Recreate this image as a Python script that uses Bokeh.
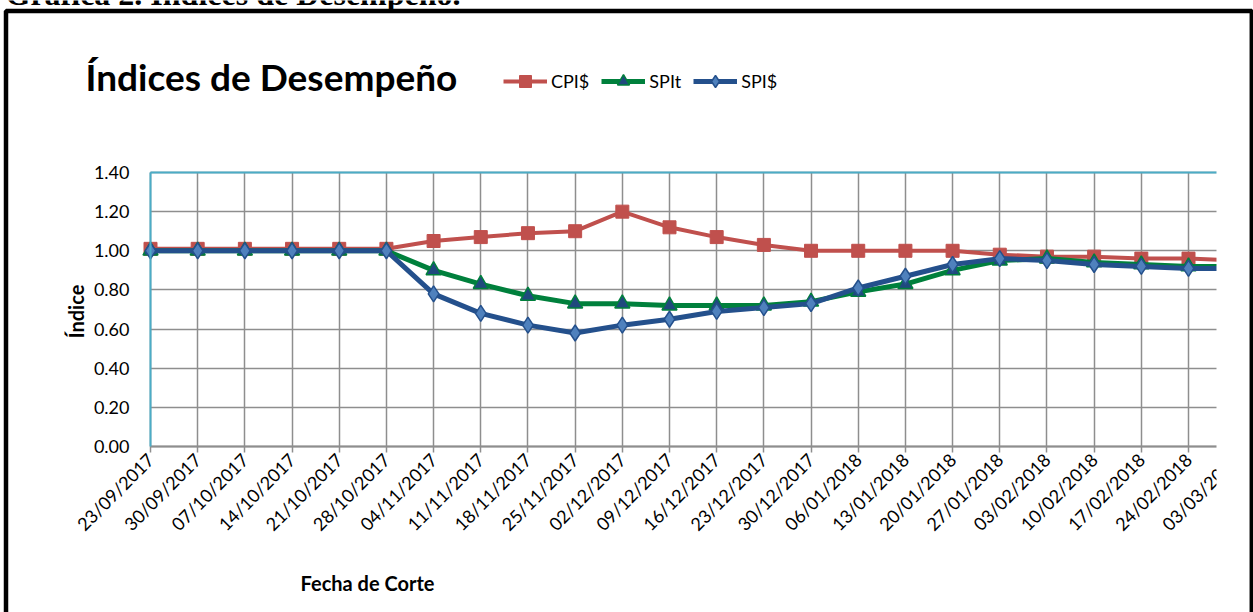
import math
from bokeh.plotting import figure
from bokeh.models import (Range1d, FixedTicker, Label, Legend, LegendItem,
                          BoxAnnotation, LinearAxis, PrintfTickFormatter)
from bokeh.embed import file_html
from bokeh.resources import INLINE

# ---------------- data ----------------
dates = ["23/09/2017", "30/09/2017", "07/10/2017", "14/10/2017", "21/10/2017",
         "28/10/2017", "04/11/2017", "11/11/2017", "18/11/2017", "25/11/2017",
         "02/12/2017", "09/12/2017", "16/12/2017", "23/12/2017", "30/12/2017",
         "06/01/2018", "13/01/2018", "20/01/2018", "27/01/2018", "03/02/2018",
         "10/02/2018", "17/02/2018", "24/02/2018", "03/03/2018"]
cpi = [1.01, 1.01, 1.01, 1.01, 1.01, 1.01, 1.05, 1.07, 1.09, 1.10, 1.20, 1.12,
       1.07, 1.03, 1.00, 1.00, 1.00, 1.00, 0.98, 0.97, 0.97, 0.96, 0.96, 0.95]
spit = [1.00, 1.00, 1.00, 1.00, 1.00, 1.00, 0.90, 0.83, 0.77, 0.73, 0.73, 0.72,
        0.72, 0.72, 0.74, 0.79, 0.83, 0.90, 0.95, 0.96, 0.94, 0.93, 0.92, 0.92]
spi = [1.00, 1.00, 1.00, 1.00, 1.00, 1.00, 0.78, 0.68, 0.62, 0.58, 0.62, 0.65,
       0.69, 0.71, 0.73, 0.81, 0.87, 0.93, 0.96, 0.95, 0.93, 0.92, 0.91, 0.91]
y_ticks = [0.0, 0.2, 0.4, 0.6, 0.8, 1.0, 1.2, 1.4]
series_names = ["CPI$", "SPIt", "SPI$"]
chart_title = "Índices de Desempeño"
page_title = "Gráfica 2. Índices de Desempeño."
x_title = "Fecha de Corte"
y_title = "Índice"

# ---------------- styles ----------------
RED = "#C0504D"
GREEN = "#00803C"
NAVY = "#1F497D"
BLUE = "#24508C"
LBLUE = "#4F81BD"
GRID = "#8E8E8E"
FRAME_BLUE = "#4BACC6"
FONT = "Lato"

W, H = 1253, 612
# plot-area geometry in page pixels
X0, DX = 150, (1188 - 150) / 22          # category 0 at x=150
Y0, DY = 446, (446 - 172) / 1.4          # value 0 at y=446, 1.40 at y=172
Y_TOP = max(y_ticks)
N = len(dates)


def sx(px):
    return px


def sy(py):
    return H - py


xs = list(range(N))

p = figure(width=W, height=H, output_backend="svg", toolbar_location=None,
           x_range=Range1d(-X0 / DX, (W - X0) / DX),
           y_range=Range1d(-(H - Y0) / DY, Y0 / DY),
           min_border_left=0, min_border_right=0,
           min_border_top=0, min_border_bottom=0,
           outline_line_color=None)

# x axis
xa = p.xaxis[0]
xa.fixed_location = 0
xa.ticker = FixedTicker(ticks=xs)
xa.major_label_overrides = {i: d for i, d in enumerate(dates)}
xa.major_label_orientation = math.pi / 4
xa.major_label_text_font = FONT
xa.major_label_text_font_size = "18px"
xa.major_label_text_color = "black"
xa.axis_line_color = GRID
xa.axis_line_width = 2
xa.bounds = (0, N)
xa.major_tick_out = 6
xa.major_tick_in = 0
xa.major_tick_line_color = GRID
xa.major_tick_line_width = 1.5
xa.minor_tick_out = 0
xa.minor_tick_in = 0
xa.major_label_standoff = 4

# y axis
ya = p.yaxis[0]
ya.fixed_location = 0
ya.ticker = FixedTicker(ticks=y_ticks)
ya.formatter = PrintfTickFormatter(format="%.2f")
ya.bounds = (0, Y_TOP)
ya.major_label_text_font = FONT
ya.major_label_text_font_size = "18px"
ya.major_label_text_color = "black"
ya.axis_line_color = FRAME_BLUE
ya.axis_line_width = 2
ya.major_tick_out = 0
ya.major_tick_in = 0
ya.minor_tick_out = 0
ya.minor_tick_in = 0
ya.major_label_standoff = 21

top = LinearAxis(ticker=FixedTicker(ticks=[]), major_label_text_font_size="0px",
                 fixed_location=Y_TOP,
                 axis_line_color=FRAME_BLUE, axis_line_width=2, bounds=(0, N),
                 major_tick_out=0, major_tick_in=0, minor_tick_out=0, minor_tick_in=0)
p.add_layout(top, "above")

p.xgrid.grid_line_color = GRID
p.xgrid.grid_line_width = 1.5
p.ygrid.grid_line_color = GRID
p.ygrid.grid_line_width = 1.5

if "cross_bounds" in p.xgrid[0].properties():
    p.xgrid.cross_bounds = (0, Y_TOP)
    p.ygrid.cross_bounds = (0, N)
else:
    for kw in ({"bottom": Y_TOP}, {"top": 0}, {"right": 0}):
        p.add_layout(BoxAnnotation(fill_color="white", fill_alpha=1,
                                   line_color=None, level="underlay", **kw))

# ---------------- series ----------------
r1l = p.line(xs, cpi, line_color=RED, line_width=4)
r1m = p.scatter(xs, cpi, marker="square", size=13, fill_color=RED, line_color=RED)
r2l = p.line(xs, spit, line_color=GREEN, line_width=5)
r2m = p.scatter(xs, spit, marker="triangle", size=15, fill_color=NAVY,
                line_color=GREEN, line_width=1.5)
r3l = p.line(xs, spi, line_color=BLUE, line_width=5)
r3m = p.scatter(xs, spi, marker="diamond", size=16,
                fill_color=LBLUE, line_color=BLUE, line_width=1.5)

legend = Legend(items=[LegendItem(label=series_names[0], renderers=[r1l, r1m]),
                       LegendItem(label=series_names[1], renderers=[r2l, r2m]),
                       LegendItem(label=series_names[2], renderers=[r3l, r3m])],
                orientation="horizontal", location=(sx(503), sy(81 + 15)),
                glyph_width=44, glyph_height=30, label_standoff=4, spacing=12,
                padding=0, margin=0, border_line_color=None,
                background_fill_alpha=0, label_text_font=FONT,
                label_text_font_size="18px", label_text_color="black")
p.add_layout(legend, "center")

# ---------------- texts ----------------
p.add_layout(Label(x=sx(85), y=sy(76), x_units="screen", y_units="screen",
                   text=chart_title, text_font=FONT, text_font_style="bold",
                   text_font_size="37px", text_baseline="alphabetic", text_color="black"))
p.add_layout(Label(x=sx(367), y=sy(582), x_units="screen", y_units="screen",
                   text=x_title, text_font=FONT, text_font_style="bold",
                   text_font_size="20px", text_align="center",
                   text_baseline="alphabetic", text_color="black"))
p.add_layout(Label(x=sx(75), y=sy(311), x_units="screen", y_units="screen",
                   text=y_title, text_font=FONT, text_font_style="bold",
                   text_font_size="20px", text_align="center", angle=math.pi / 2,
                   text_baseline="middle", text_color="black"))

# clip right side & box border
p.add_layout(BoxAnnotation(left=sx(1216), right=sx(1249.5), top=sy(12.7), bottom=sy(700),
                           left_units="screen", right_units="screen",
                           top_units="screen", bottom_units="screen",
                           fill_color="white", fill_alpha=1, line_color=None,
                           level="overlay"))
p.add_layout(Label(x=sx(5), y=sy(-7), x_units="screen", y_units="screen",
                   text=page_title, text_font="Liberation Serif", text_font_style="bold",
                   text_font_size="32px", text_baseline="alphabetic", text_color="black"))
p.add_layout(BoxAnnotation(left=sx(5.5), right=sx(1251.3), top=sy(10.6), bottom=sy(800),
                           left_units="screen", right_units="screen",
                           top_units="screen", bottom_units="screen",
                           fill_alpha=0, line_color="black", line_alpha=1, line_width=4.5,
                           level="overlay"))

open("out.html", "w").write(file_html(p, INLINE))
